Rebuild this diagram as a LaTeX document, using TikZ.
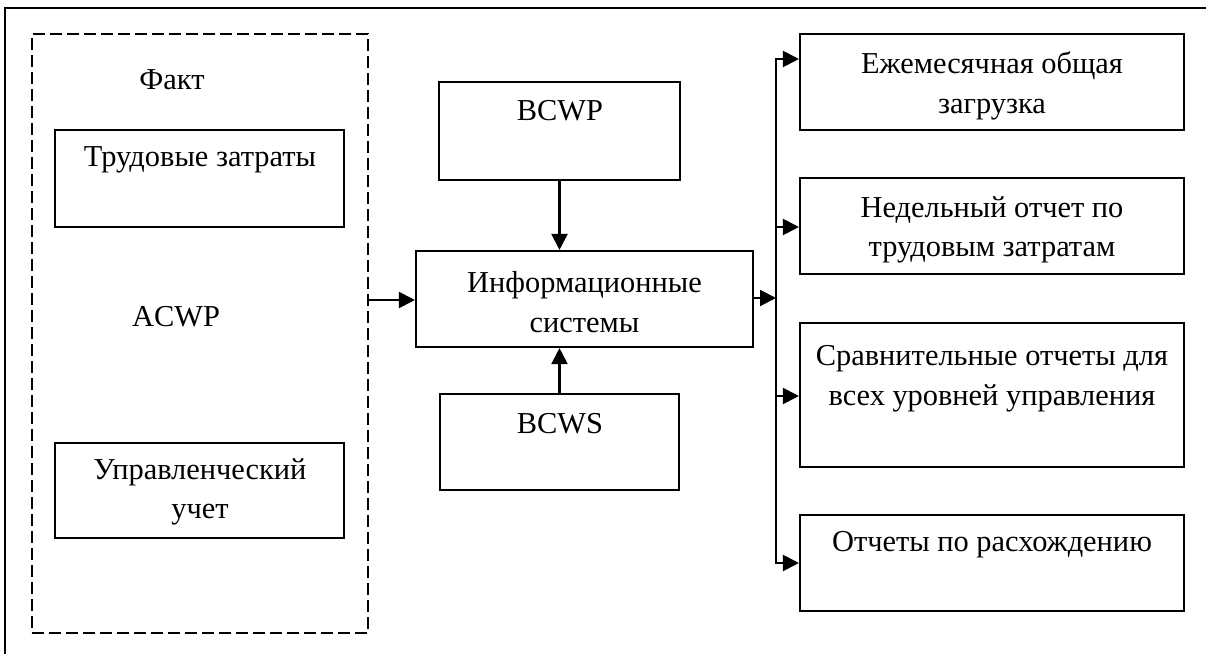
\documentclass[tikz,border=0pt]{standalone}
\usepackage{fontspec}
\setmainfont{Liberation Serif}
\usetikzlibrary{arrows.meta,fit}

\begin{document}
\begin{tikzpicture}[x=0.5pt,y=-0.5pt,
  frameline/.style={line width=0.75pt},
  boxed/.style={draw,line width=1.05pt,inner sep=0pt,fit={#1}},
  groupbox/.style={draw,line width=1.05pt,dash pattern=on 6pt off 2.5pt,inner sep=0pt,fit={#1}},
  txt/.style={font=\fontsize{15.2pt}{19.8pt}\selectfont,align=center,inner sep=0pt},
  arr/.style={line width=1.05pt,-{Triangle[length=8pt,width=8pt]}}]

  % canvas and page frame (top and left edges only)
  \useasboundingbox (0,0) rectangle (1206,654);
  \draw[frameline] (5,654) -- (5,8) -- (1206,8);

  % actual-cost group
  \node[groupbox={(32,34) (368,633)}] (fact) {};
  \node[txt] (factlbl) at (172,80) {Факт};
  \node[boxed={(55,130) (344,227)}] (labor) {};
  \node[txt] (labortxt) at (200,160) {Трудовые затраты};
  \node[txt] (acwp) at (176,317) {ACWP};
  \node[boxed={(55,443) (344,538)}] (mgmt) {};
  \node[txt] (mgmttxt) at (200,492) {Управленческий\\учет};

  % information system and its inputs
  \node[boxed={(416,251) (753,347)}] (info) {};
  \node[txt] (infotxt) at (584.5,302) {Информационные\\системы};
  \node[boxed={(439,82) (680,180)}] (bcwp) {};
  \node[txt] (bcwptxt) at (560,111) {BCWP};
  \node[boxed={(440,394) (679,490)}] (bcws) {};
  \node[txt] (bcwstxt) at (560,424) {BCWS};

  % reports
  \node[boxed={(800,34) (1184,130)}] (r1) {};
  \node[txt] (r1txt) at (992,86) {Ежемесячная общая\\загрузка};
  \node[boxed={(800,178) (1184,274)}] (r2) {};
  \node[txt] (r2txt) at (992,230) {Недельный отчет по\\трудовым затратам};
  \node[boxed={(800,323) (1184,467)}] (r3) {};
  \node[txt] (r3txt) at (992,379) {Сравнительные отчеты для\\всех уровней управления};
  \node[boxed={(800,515) (1184,611)}] (r4) {};
  \node[txt] (r4txt) at (992,545) {Отчеты по расхождению};

  % distribution bus
  \coordinate (bus) at (776,298);
  \coordinate (t1) at (776,59);
  \coordinate (t2) at (776,227);
  \coordinate (t3) at (776,396);
  \coordinate (t4) at (776,563);

  % connectors
  \draw[arr] (fact.east |- 0,300) -- (info.west |- 0,300);
  \draw[arr] (bcwp.south) -- (bcwp.south |- info.north);
  \draw[arr] (bcws.north) -- (bcws.north |- info.south);
  \draw[arr] (info.east |- bus) -- (bus);
  \draw[arr] (t3) -- (t1) -- (t1 -| r1.west);
  \draw[arr] (t2) -- (t2 -| r2.west);
  \draw[arr] (t3) -- (t3 -| r3.west);
  \draw[arr] (t2) -- (t4) -- (t4 -| r4.west);
\end{tikzpicture}
\end{document}
